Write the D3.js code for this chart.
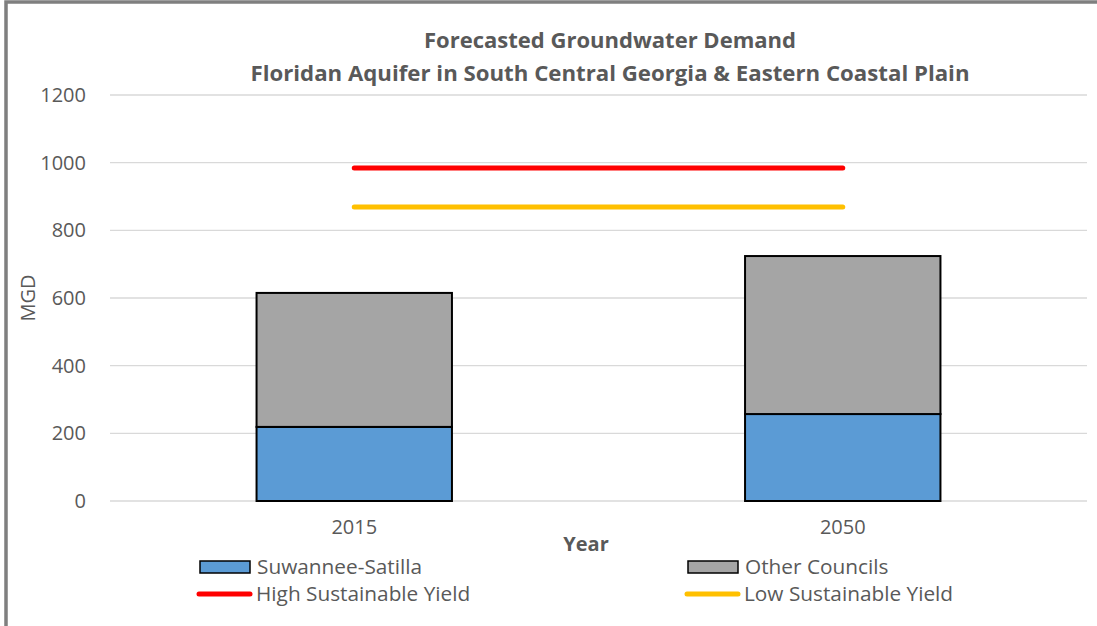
<!DOCTYPE html>
<html>
<head>
<meta charset="utf-8">
<script src="https://cdn.jsdelivr.net/npm/d3@7"></script>
<style>
  body { margin: 0; background: #fff; }
  svg { display: block; font-family: "Open Sans", "Liberation Sans", sans-serif; }
</style>
</head>
<body>
<div id="chart"></div>
<script>
const years = ['2015', '2050'];
const suwannee = [219, 257];
const otherCouncils = [396, 467];
const highYield = [984, 984];
const lowYield = [869, 869];
const yTicks = [0, 200, 400, 600, 800, 1000, 1200];

const W = 1097, H = 626;
const margin = {top: 95, right: 10, bottom: 125, left: 110};
const width = W - margin.left - margin.right;
const height = H - margin.top - margin.bottom;
const textColor = '#595959';

const svg = d3.select('#chart').append('svg')
  .attr('width', W).attr('height', H);

// frame
svg.append('rect')
  .attr('x', 6).attr('y', 2).attr('width', W + 10).attr('height', H + 10)
  .attr('fill', 'none').attr('stroke', '#7f7f7f').attr('stroke-width', 3.5);

// title
svg.append('text').attr('x', 610).attr('y', 48).attr('text-anchor', 'middle')
  .attr('font-size', 21.5).attr('font-weight', 'bold').attr('fill', textColor)
  .attr('textLength', 372).attr('lengthAdjust', 'spacingAndGlyphs')
  .text('Forecasted Groundwater Demand');
svg.append('text').attr('x', 610).attr('y', 81).attr('text-anchor', 'middle')
  .attr('font-size', 21.5).attr('font-weight', 'bold').attr('fill', textColor)
  .attr('textLength', 719).attr('lengthAdjust', 'spacingAndGlyphs')
  .text('Floridan Aquifer in South Central Georgia & Eastern Coastal Plain');

const g = svg.append('g').attr('transform', `translate(${margin.left},${margin.top})`);

const x = d3.scaleBand().domain(years).range([0, width]).padding(0);
const y = d3.scaleLinear().domain([0, 1200]).range([height, 0]);

// gridlines
g.append('g').selectAll('line').data(yTicks).enter().append('line')
  .attr('x1', 0).attr('x2', width)
  .attr('y1', d => y(d)).attr('y2', d => y(d))
  .attr('stroke', '#d9d9d9').attr('stroke-width', 1.3);

// y axis labels
const yAxis = g.append('g').call(d3.axisLeft(y).tickValues(yTicks).tickFormat(d3.format('d')).tickSize(0).tickPadding(24));
yAxis.select('.domain').remove();
yAxis.selectAll('text').attr('font-size', 20).attr('fill', textColor)
  .attr('font-family', '"Open Sans", sans-serif');

// x axis labels
const xAxis = g.append('g').attr('transform', `translate(0,${height})`)
  .call(d3.axisBottom(x).tickSize(0).tickPadding(19));
xAxis.select('.domain').remove();
xAxis.selectAll('text').attr('font-size', 20).attr('fill', textColor)
  .attr('font-family', '"Open Sans", sans-serif');

// stacked bars
const barW = x.bandwidth() * 0.4;
const stackData = years.map((yr, i) => ({year: yr, s: suwannee[i], o: otherCouncils[i]}));
const series = d3.stack().keys(['s', 'o'])(stackData);
const colors = {s: '#5b9bd5', o: '#a5a5a5'};

series.forEach(layer => {
  g.append('g').selectAll('rect').data(layer).enter().append('rect')
    .attr('x', d => x(d.data.year) + (x.bandwidth() - barW) / 2)
    .attr('y', d => y(d[1]))
    .attr('width', barW)
    .attr('height', d => y(d[0]) - y(d[1]))
    .attr('fill', colors[layer.key])
    .attr('stroke', '#000').attr('stroke-width', 2);
});

// yield lines
const line = d3.line().x((d, i) => x(years[i]) + x.bandwidth() / 2).y(d => y(d));
g.append('path').datum(highYield).attr('d', line)
  .attr('fill', 'none').attr('stroke', '#ff0000').attr('stroke-width', 5).attr('stroke-linecap', 'round');
g.append('path').datum(lowYield).attr('d', line)
  .attr('fill', 'none').attr('stroke', '#ffc000').attr('stroke-width', 5).attr('stroke-linecap', 'round');

// axis titles
svg.append('text').attr('transform', 'translate(35,298) rotate(-90)').attr('text-anchor', 'middle')
  .attr('font-size', 20).attr('fill', textColor).text('MGD');
svg.append('text').attr('x', 586).attr('y', 551).attr('text-anchor', 'middle')
  .attr('font-size', 20).attr('font-weight', 'bold').attr('fill', textColor).text('Year');

// legend
const legendItems = [
  {label: 'Suwannee-Satilla', type: 'rect', color: '#5b9bd5', x: 200, y: 567},
  {label: 'Other Councils', type: 'rect', color: '#a5a5a5', x: 688, y: 567},
  {label: 'High Sustainable Yield', type: 'line', color: '#ff0000', x: 199, y: 594},
  {label: 'Low Sustainable Yield', type: 'line', color: '#ffc000', x: 687, y: 594}
];
legendItems.forEach(it => {
  if (it.type === 'rect') {
    svg.append('rect').attr('x', it.x).attr('y', it.y - 6).attr('width', 50).attr('height', 12)
      .attr('fill', it.color).attr('stroke', '#000').attr('stroke-width', 1.5);
  } else {
    svg.append('line').attr('x1', it.x).attr('x2', it.x + 51).attr('y1', it.y).attr('y2', it.y)
      .attr('stroke', it.color).attr('stroke-width', 5).attr('stroke-linecap', 'round');
  }
  svg.append('text').attr('x', it.x + 57).attr('y', it.y).attr('dy', '0.35em')
    .attr('font-size', 20.8).attr('fill', textColor).text(it.label);
});
</script>
</body>
</html>
